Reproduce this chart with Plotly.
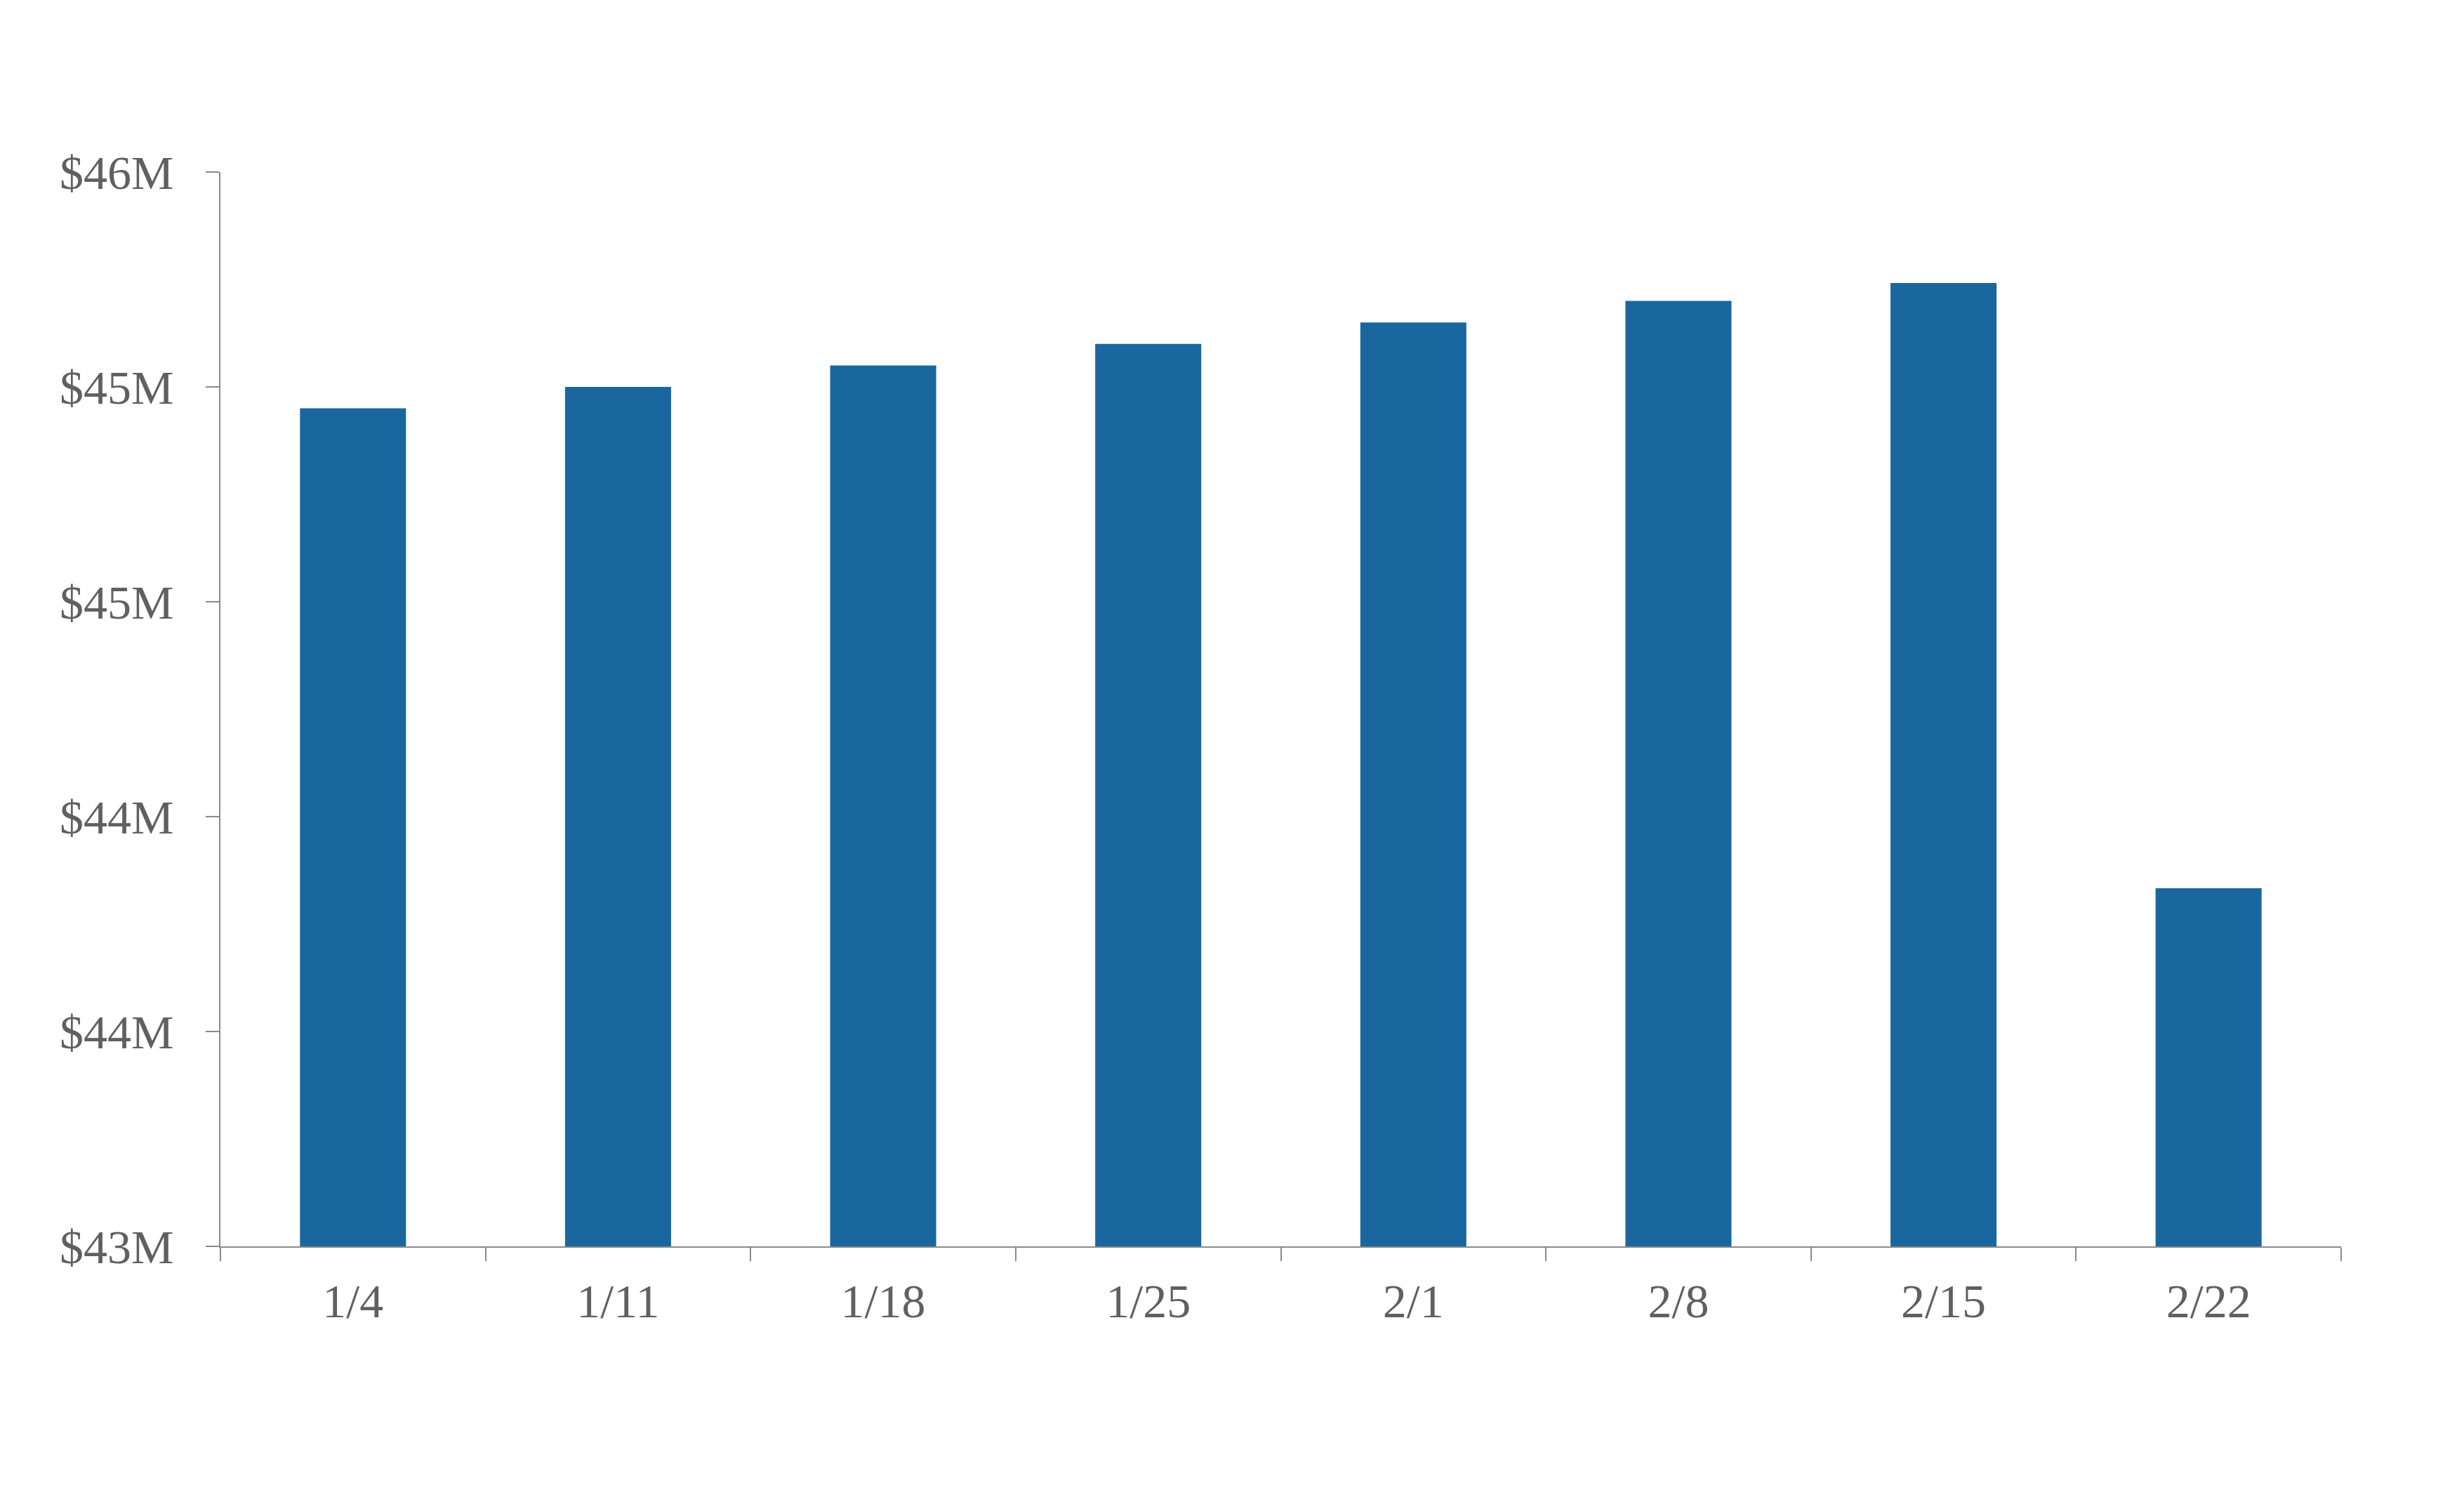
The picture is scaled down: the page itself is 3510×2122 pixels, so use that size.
import plotly.graph_objects as go

weeks = ["1/4", "1/11", "1/18", "1/25", "2/1", "2/8", "2/15", "2/22"]
values_musd = [45.34, 45.40, 45.46, 45.52, 45.58, 45.64, 45.69, 44.00]

BAR_COLOR = "#1a679f"
TEXT_COLOR = "#606060"
AXIS_COLOR = "#8a8a8a"
FONT = "Liberation Serif, DejaVu Serif, serif"

fig = go.Figure(
    go.Bar(
        x=weeks,
        y=values_musd,
        marker=dict(color=BAR_COLOR, line=dict(width=0)),
    )
)

fig.update_layout(
    width=3510,
    height=2122,
    margin=dict(l=306, r=183, t=237, b=355),
    paper_bgcolor="white",
    plot_bgcolor="white",
    bargap=0.6,
    showlegend=False,
    font=dict(family=FONT, size=68, color=TEXT_COLOR),
)

fig.update_xaxes(
    type="category",
    showline=True,
    linecolor=AXIS_COLOR,
    linewidth=2,
    ticks="outside",
    tickson="boundaries",
    ticklen=19,
    tickwidth=2,
    tickcolor=AXIS_COLOR,
    showgrid=False,
    tickfont=dict(family=FONT, size=68, color=TEXT_COLOR),
    ticklabelstandoff=17,
)

fig.update_yaxes(
    range=[43, 46],
    tick0=43,
    dtick=0.6,
    tickprefix="$",
    tickformat=".0f",
    ticksuffix="M",
    showline=True,
    linecolor=AXIS_COLOR,
    linewidth=2,
    ticks="outside",
    ticklen=19,
    tickwidth=2,
    tickcolor=AXIS_COLOR,
    showgrid=False,
    zeroline=False,
    tickfont=dict(family=FONT, size=68, color=TEXT_COLOR),
    ticklabelstandoff=32,
)

fig.write_html("out.html")
